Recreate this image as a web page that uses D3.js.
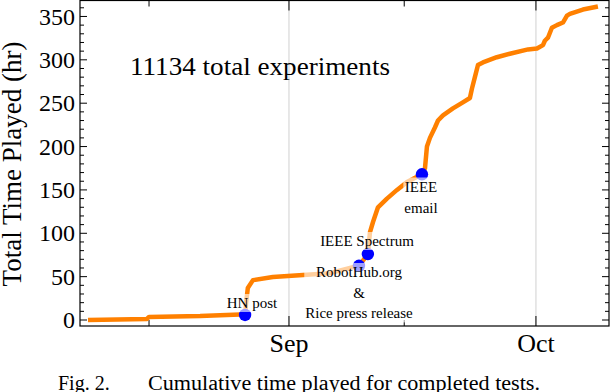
<!DOCTYPE html>
<html>
<head>
<meta charset="utf-8">
<script src="https://cdn.jsdelivr.net/npm/d3@7"></script>
<style>
  body { margin: 0; background: #fff; }
  svg { display: block; }
  text { font-family: "Liberation Serif", "Times New Roman", serif; fill: #000; }
</style>
</head>
<body>
<div id="chart"></div>
<script>
// cumulative play time
var playTimes = [
  "2013-08-07 14:00", "2013-08-14 18:00", "2013-08-15 00:00", "2013-08-21 05:00",
  "2013-08-26 01:00", "2013-08-26 16:00", "2013-08-26 19:00", "2013-08-27 00:00",
  "2013-08-27 15:00", "2013-08-30 01:00", "2013-09-02 17:00", "2013-09-05 23:30",
  "2013-09-08 18:30", "2013-09-09 12:00", "2013-09-10 14:00", "2013-09-10 20:00",
  "2013-09-11 05:00", "2013-09-11 19:30", "2013-09-12 21:40", "2013-09-14 03:00",
  "2013-09-15 08:00", "2013-09-17 03:40", "2013-09-17 12:30", "2013-09-17 18:15",
  "2013-09-18 03:00", "2013-09-18 17:30", "2013-09-19 02:30", "2013-09-19 17:00",
  "2013-09-20 22:00", "2013-09-22 03:00", "2013-09-22 23:30", "2013-09-23 05:30",
  "2013-09-23 14:00", "2013-09-23 23:00", "2013-09-24 13:30", "2013-09-26 06:00",
  "2013-09-27 20:00", "2013-09-30 01:00", "2013-10-01 03:00", "2013-10-01 20:30",
  "2013-10-02 02:00", "2013-10-02 11:00", "2013-10-02 22:30", "2013-10-03 13:00",
  "2013-10-04 06:40", "2013-10-04 18:30", "2013-10-05 03:00", "2013-10-06 17:00",
  "2013-10-08 12:40"
];
var playHours = [
  0, 1.2, 3.5, 4.5,
  6.5, 5.8, 20, 37,
  46, 49.5, 52, 54,
  61, 62.5, 76, 101,
  113, 130, 140, 150,
  159, 168, 175, 200,
  210, 222, 230, 236,
  244, 251, 256, 267,
  280, 294, 297, 303,
  307, 312, 313, 317,
  322, 325.5, 337, 340,
  343, 351, 353, 358,
  361.5
];

// publicity events
var eventNames = ["HN post", "RobotHub.org", "IEEE Spectrum", "IEEE email"];
var eventTimes = ["2013-08-26 16:00", "2013-09-09 12:00", "2013-09-10 14:00", "2013-09-17 03:40"];
var eventHours = [5.8, 62.5, 76, 168];

var yMajor = [0, 50, 100, 150, 200, 250, 300, 350];
var yMinor = d3.range(0, 370, 10).filter(function (v) { return v % 50 !== 0; });
var xMajor = ["2013-09-01 00:00", "2013-10-01 00:00"];
var xMinor = ["2013-08-15 00:00", "2013-09-15 00:00"];

var parse = d3.utcParse("%Y-%m-%d %H:%M");
var data = playTimes.map(function (t, i) { return { t: parse(t), v: playHours[i] }; });
var events = eventNames.map(function (n, i) { return { name: n, t: parse(eventTimes[i]), v: eventHours[i] }; });

var W = 610, H = 392;
var pLeft = 80, pRight = 609, pTop = 0.5, pBottom = 326;

var x = d3.scaleUtc()
  .domain([parse("2013-08-06 14:45"), parse("2013-10-09 21:00")])
  .range([pLeft, pRight]);
var y = d3.scaleLinear()
  .domain([-6.9, 368.4])
  .range([pBottom, pTop]);

var svg = d3.select("#chart").append("svg")
  .attr("width", W)
  .attr("height", H);

// vertical grid lines at month starts
svg.selectAll(".grid")
  .data(xMajor.map(parse))
  .enter().append("line")
    .attr("x1", function (d) { return x(d); })
    .attr("x2", function (d) { return x(d); })
    .attr("y1", pTop).attr("y2", pBottom)
    .attr("stroke", "#d0d0d0").attr("stroke-width", 1);

// frame
svg.append("rect")
  .attr("x", pLeft).attr("y", pTop)
  .attr("width", pRight - pLeft).attr("height", pBottom - pTop)
  .attr("fill", "none").attr("stroke", "#000").attr("stroke-width", 1.2);

// inward ticks on all four sides
function yTicks(vals, len) {
  vals.forEach(function (v) {
    svg.append("line").attr("x1", pLeft).attr("x2", pLeft + len)
      .attr("y1", y(v)).attr("y2", y(v)).attr("stroke", "#000");
    svg.append("line").attr("x1", pRight - len).attr("x2", pRight)
      .attr("y1", y(v)).attr("y2", y(v)).attr("stroke", "#000");
  });
}
function xTicks(vals, len) {
  vals.forEach(function (d) {
    svg.append("line").attr("x1", x(d)).attr("x2", x(d))
      .attr("y1", pBottom).attr("y2", pBottom - len).attr("stroke", "#000");
    svg.append("line").attr("x1", x(d)).attr("x2", x(d))
      .attr("y1", pTop).attr("y2", pTop + len).attr("stroke", "#000");
  });
}
yTicks(yMajor, 7);
yTicks(yMinor, 4);
xTicks(xMajor.map(parse), 10);
xTicks(xMinor.map(parse), 6);

// tick labels
svg.selectAll(".ylab")
  .data(yMajor)
  .enter().append("text")
    .attr("x", pLeft - 5)
    .attr("y", function (d) { return y(d); })
    .attr("dy", "0.34em")
    .attr("text-anchor", "end")
    .style("font-size", "24px")
    .text(function (d) { return d; });

var monthFmt = d3.utcFormat("%b");
svg.selectAll(".xlab")
  .data(xMajor.map(parse))
  .enter().append("text")
    .attr("x", function (d) { return x(d); })
    .attr("y", 352)
    .attr("text-anchor", "middle")
    .style("font-size", "26px")
    .text(function (d) { return monthFmt(d); });

// axis title
svg.append("text")
  .attr("transform", "translate(21,164) rotate(-90)")
  .attr("text-anchor", "middle")
  .style("font-size", "27px")
  .text("Total Time Played (hr)");

// the curve
var line = d3.line()
  .x(function (d) { return x(d.t); })
  .y(function (d) { return y(d.v); });

svg.append("path")
  .datum(data)
  .attr("d", line)
  .attr("fill", "none")
  .attr("stroke", "#ff8000")
  .attr("stroke-width", 4.5)
  .attr("stroke-linejoin", "round");

svg.selectAll(".event")
  .data(events)
  .enter().append("circle")
    .attr("cx", function (d) { return x(d.t); })
    .attr("cy", function (d) { return y(d.v); })
    .attr("r", 6.2)
    .attr("fill", "#0000ff");

// event labels with washed white boxes
var labels = [
  { lines: ["HN post"], cx: 252, base: 308, gap: 0 },
  { lines: ["IEEE Spectrum"], cx: 367, base: 246, gap: 0 },
  { lines: ["RobotHub.org", "&", "Rice press release"], cx: 359, base: 277, gap: 20.7 },
  { lines: ["IEEE", "email"], cx: 421, base: 191.5, gap: 21 }
];
labels.forEach(function (lb) {
  var g = svg.append("g");
  var bg = g.append("rect").attr("fill", "#fff").attr("fill-opacity", 0.62);
  var t = g.append("text")
    .attr("text-anchor", "middle")
    .style("font-size", "15px");
  lb.lines.forEach(function (s, i) {
    t.append("tspan").attr("x", lb.cx).attr("y", lb.base + i * lb.gap).text(s);
  });
  var bb = t.node().getBBox();
  bg.attr("x", bb.x - 1).attr("y", bb.y - 1)
    .attr("width", bb.width + 2).attr("height", bb.height + 2);
});

svg.append("text")
  .attr("x", 130).attr("y", 75)
  .attr("textLength", 260)
  .attr("lengthAdjust", "spacingAndGlyphs")
  .style("font-size", "25px")
  .text("11134 total experiments");

// caption under the figure
svg.append("text")
  .attr("x", 58).attr("y", 390)
  .style("font-size", "20px")
  .text("Fig. 2.");
svg.append("text")
  .attr("x", 148).attr("y", 390)
  .attr("textLength", 392)
  .attr("lengthAdjust", "spacingAndGlyphs")
  .style("font-size", "20px")
  .text("Cumulative time played for completed tests.");
</script>
</body>
</html>
